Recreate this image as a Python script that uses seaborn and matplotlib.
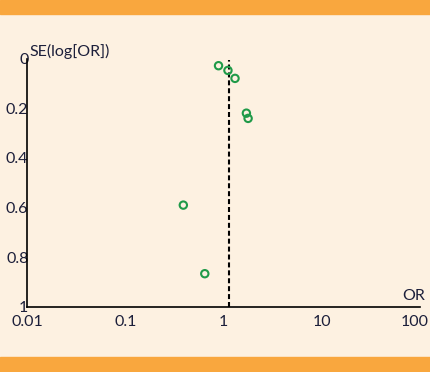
import matplotlib
matplotlib.use("Agg")
import matplotlib.pyplot as plt
import matplotlib.transforms as mtransforms
import seaborn as sns
import pandas as pd
from matplotlib.patches import Rectangle

# odds ratios and their standard errors
odds_ratio = [0.89, 1.11, 1.31, 1.71, 1.78, 0.39, 0.645]
se_log_or = [0.029, 0.048, 0.080, 0.220, 0.241, 0.590, 0.866]
pooled_or = 1.15
x_ticks = [0.01, 0.1, 1, 10, 100]
x_labels = ["0.01", "0.1", "1", "10", "100"]
y_ticks = [0, 0.2, 0.4, 0.6, 0.8, 1]
y_labels = ["0", "0.2", "0.4", "0.6", "0.8", "1"]

df = pd.DataFrame({"OR": odds_ratio, "SE": se_log_or})

bg = "#fdf1e1"
orange = "#f9a73e"
green = "#1f9a48"
txt = "#1c1f3a"

sns.set_style("white")
plt.rcParams["font.family"] = ["Lato", "DejaVu Sans"]

fig = plt.figure(figsize=(4.31, 3.72), dpi=100, facecolor=bg)
ax = fig.add_axes([27 / 431, 1 - 307 / 372, 393 / 431, 248.5 / 372])
ax.set_facecolor(bg)

# orange bands top and bottom
fig.patches.append(Rectangle((0, 1 - 14 / 372), 1, 14 / 372, transform=fig.transFigure,
                             color=orange, zorder=0))
fig.patches.append(Rectangle((0, 0), 1, 15 / 372, transform=fig.transFigure,
                             color=orange, zorder=0))

ax.axvline(pooled_or, ymin=0, ymax=0.995, color="black", lw=1.5, ls=(0, (2.4, 1.4)), zorder=1)
sns.scatterplot(data=df, x="OR", y="SE", ax=ax, marker="o", s=28,
                facecolor="none", edgecolor=green, linewidth=1.5, zorder=3)

ax.set_xscale("log")
ax.set_xlim(0.01, 100)
ax.set_ylim(1, 0)
ax.set_xticks(x_ticks)
ax.set_xticklabels(x_labels)
ax.set_yticks(y_ticks)
ax.set_yticklabels(y_labels)
ax.minorticks_off()
ax.set_xlabel("")
ax.set_ylabel("")

for s in ["top", "right"]:
    ax.spines[s].set_visible(False)
for s in ["left", "bottom"]:
    ax.spines[s].set_color("black")
    ax.spines[s].set_linewidth(1.2)

ax.tick_params(axis="y", direction="in", length=5, width=1.2, pad=-1, labelsize=11.5,
               colors="black", labelcolor=txt)
ax.tick_params(axis="x", direction="inout", length=7, width=1.2, pad=2, labelsize=11.5,
               colors="black", labelcolor=txt)

# last x label sits a little left of its tick so it fits in the figure
last = ax.get_xticklabels()[-1]
last.set_transform(last.get_transform() + mtransforms.ScaledTranslation(-5 / 100, 0, fig.dpi_scale_trans))

ax.text(0.0105, 0.0, "SE(log[OR])", fontsize=11.5, color=txt, ha="left", va="bottom")
ax.text(100, 0.985, "OR", fontsize=11.5, color=txt, ha="right", va="bottom",
        transform=ax.transData + mtransforms.ScaledTranslation(5 / 100, 0, fig.dpi_scale_trans))

fig.savefig("out.png", dpi=100, facecolor=bg)
